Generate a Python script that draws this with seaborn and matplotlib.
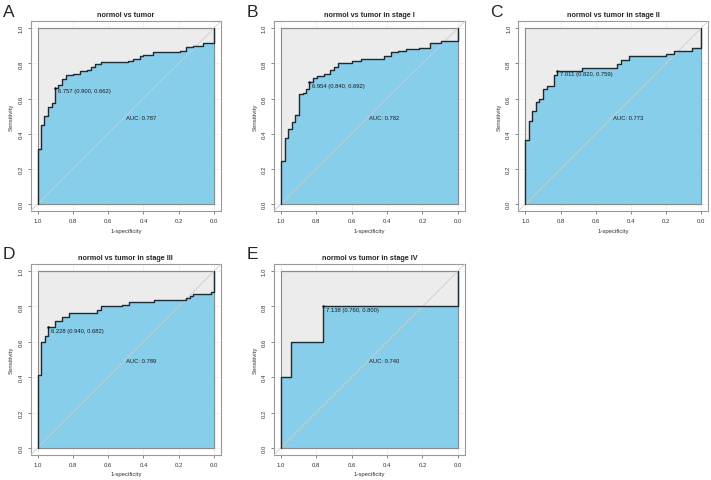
import numpy as np
import matplotlib.pyplot as plt
import seaborn as sns

sns.set_style("white")
plt.rcParams['font.family'] = ['Liberation Sans', 'DejaVu Sans']

panel_tags = ["A", "B", "C", "D", "E"]
panel_titles = ["normol vs tumor", "normol vs tumor in stage I", "normol vs tumor in stage II",
                "normol vs tumor in stage III", "normol vs tumor in stage IV"]
auc_values = [0.787, 0.782, 0.773, 0.789, 0.740]
cutoff_values = [6.757, 6.954, 7.011, 6.228, 7.138]
cutoff_spec = [0.900, 0.840, 0.820, 0.940, 0.760]
cutoff_sens = [0.662, 0.692, 0.759, 0.682, 0.800]

# specificity where sensitivity steps up, and the sensitivity after the step
spec_a = [1.00, 0.98, 0.962, 0.94, 0.921, 0.90, 0.883, 0.862, 0.84, 0.80, 0.76, 0.72, 0.70,
          0.675, 0.64, 0.49, 0.46, 0.42, 0.40, 0.345, 0.195, 0.16, 0.12, 0.06, 0.00]
sens_a = [0.314, 0.45, 0.50, 0.551, 0.576, 0.662, 0.678, 0.712, 0.735, 0.742, 0.754, 0.765, 0.778,
          0.795, 0.807, 0.816, 0.826, 0.839, 0.848, 0.864, 0.873, 0.892, 0.90, 0.913, 1.00]

spec_b = [1.00, 0.979, 0.957, 0.938, 0.919, 0.896, 0.876, 0.857, 0.84, 0.819, 0.795, 0.757, 0.72,
          0.697, 0.678, 0.599, 0.546, 0.418, 0.377, 0.339, 0.292, 0.217, 0.16, 0.094, 0.00]
sens_b = [0.246, 0.375, 0.426, 0.464, 0.508, 0.625, 0.634, 0.653, 0.692, 0.716, 0.729, 0.739, 0.763,
          0.78, 0.80, 0.814, 0.824, 0.843, 0.862, 0.871, 0.88, 0.89, 0.915, 0.928, 1.00]

spec_c = [1.00, 0.979, 0.96, 0.94, 0.92, 0.90, 0.879, 0.839, 0.82, 0.68, 0.479, 0.455, 0.413,
          0.197, 0.156, 0.052, 0.00]
sens_c = [0.367, 0.47, 0.527, 0.583, 0.598, 0.655, 0.669, 0.735, 0.759, 0.775, 0.795, 0.82, 0.841,
          0.854, 0.873, 0.886, 1.00]

spec_d = [1.00, 0.979, 0.96, 0.94, 0.90, 0.86, 0.82, 0.666, 0.64, 0.52, 0.48, 0.34, 0.157,
          0.138, 0.119, 0.02, 0.00]
sens_d = [0.41, 0.599, 0.633, 0.682, 0.717, 0.74, 0.765, 0.778, 0.80, 0.81, 0.825, 0.836, 0.847,
          0.861, 0.872, 0.881, 1.00]

spec_e = [1.00, 0.94, 0.76, 0.00]
sens_e = [0.40, 0.60, 0.80, 1.00]

roc_spec = [spec_a, spec_b, spec_c, spec_d, spec_e]
roc_sens = [sens_a, sens_b, sens_c, sens_d, sens_e]

# axes rectangles in figure fraction (left, bottom, width, height)
rects = [(0.043, 0.559, 0.268, 0.395), (0.385, 0.559, 0.269, 0.395), (0.729, 0.559, 0.267, 0.395),
         (0.043, 0.052, 0.268, 0.397), (0.385, 0.052, 0.269, 0.397)]
tag_pos = [(0.004, 0.965), (0.347, 0.965), (0.689, 0.965), (0.004, 0.4615), (0.347, 0.4615)]

fig = plt.figure(figsize=(7.11, 4.81), dpi=100)
ticks = [0.0, 0.2, 0.4, 0.6, 0.8, 1.0]

for i in range(5):
    ax = fig.add_axes(rects[i])
    x = np.array([1.0] + roc_spec[i])
    y = np.array([0.0] + roc_sens[i])

    for t in ticks:
        ax.axvline(t, color='#ececec', lw=0.5, zorder=0)
        ax.axhline(t, color='#ececec', lw=0.5, zorder=0)

    ax.fill([1, 0, 0, 1], [0, 0, 1, 1], facecolor='#ececec', edgecolor='#8a8a8a', lw=0.8, zorder=1)
    ax.fill_between(x, y, step='post', color='#87CEEB', lw=0, zorder=2)
    ax.plot([1, 0, 0, 1], [1, 1, 0, 0], color='#8a8a8a', lw=0.8, zorder=2.5)
    ax.plot([1.04, -0.04], [-0.04, 1.04], color='#cccccc', lw=0.6, zorder=3)

    sns.lineplot(x=x, y=y, estimator=None, sort=False, drawstyle='steps-post',
                 color='#1b2b36', lw=1.0, ax=ax, zorder=4)
    sns.scatterplot(x=[cutoff_spec[i]], y=[cutoff_sens[i]], color='black', s=3,
                    linewidth=0, ax=ax, zorder=5)
    ax.text(cutoff_spec[i] - 0.015, cutoff_sens[i] - 0.004,
            f"{cutoff_values[i]:.3f} ({cutoff_spec[i]:.3f}, {cutoff_sens[i]:.3f})",
            ha='left', va='top', fontsize=4.2, color='#1a1a1a', zorder=6)
    ax.text(0.5, 0.508, f"AUC: {auc_values[i]:.3f}", ha='left', va='top',
            fontsize=4.2, color='#1a1a1a', zorder=6)

    ax.set_xlim(1.04, -0.04)
    ax.set_ylim(-0.04, 1.04)
    ax.set_xticks(ticks)
    ax.set_yticks(ticks)
    ax.set_xticklabels([f"{t:.1f}" for t in ticks])
    ax.set_yticklabels([f"{t:.1f}" for t in ticks], rotation=90, va='center')
    ax.tick_params(axis='both', labelsize=4.3, length=2.2, width=0.5, color='#555555',
                   labelcolor='#333333', pad=3, direction='out', bottom=True, left=True)
    for s in ax.spines.values():
        s.set_color('#9a9a9a')
        s.set_linewidth(0.8)
    ax.set_xlabel("1-specificity", fontsize=4.3, color='#333333', labelpad=3)
    ax.set_ylabel("Sensitivity", fontsize=4.3, color='#333333', labelpad=3)
    ax.set_title(panel_titles[i], fontsize=5.2, fontweight='bold', pad=3.5)
    fig.text(tag_pos[i][0], tag_pos[i][1], panel_tags[i], fontsize=12.5, ha='left', va='baseline')

fig.savefig("out.png", dpi=100)
